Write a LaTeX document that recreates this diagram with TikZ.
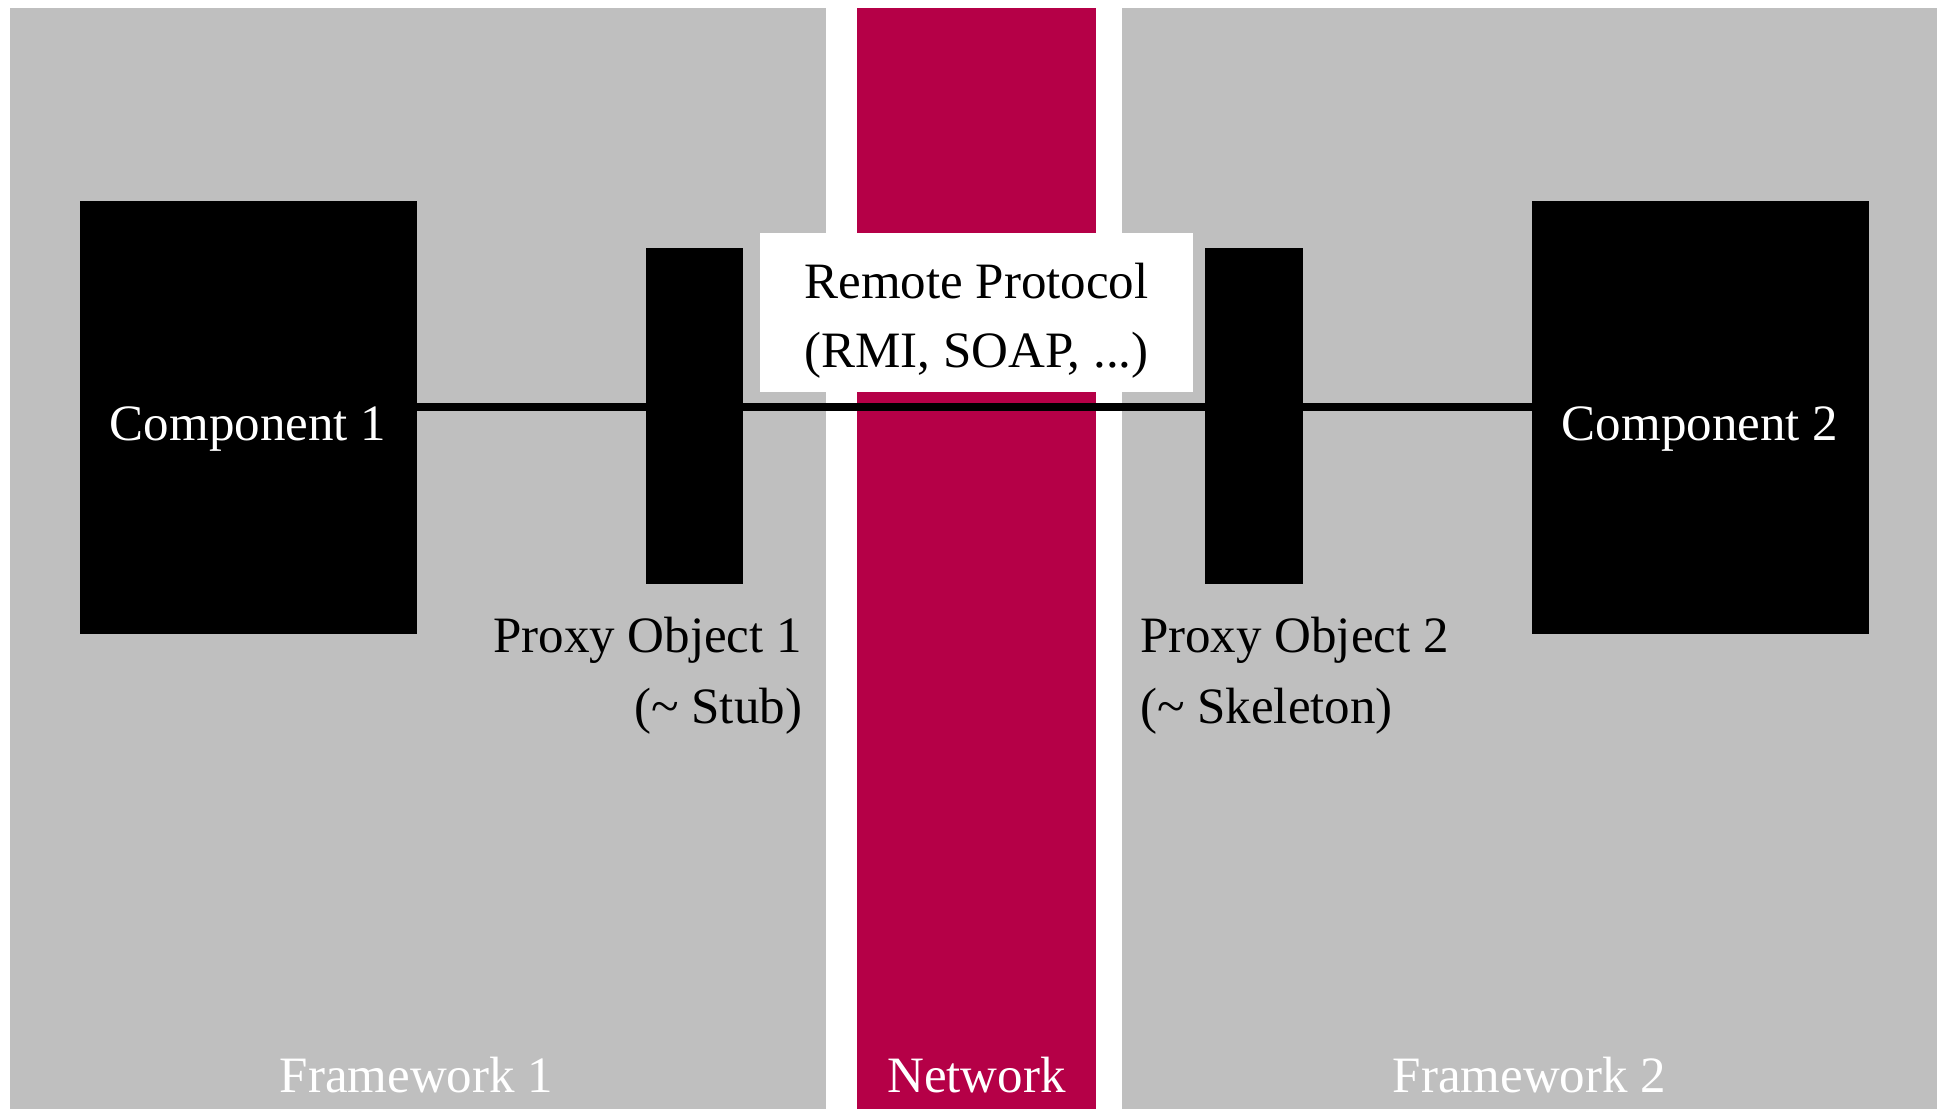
\documentclass[tikz,border=0pt]{standalone}
\usepackage{fontspec}
\setmainfont{Liberation Serif}
\definecolor{panelgray}{RGB}{191,191,191}
\definecolor{netred}{RGB}{181,0,71}
\tikzset{
  panel/.style={fill=panelgray},
  block/.style={rectangle, fill=black, draw=none, inner sep=0pt, outer sep=0pt},
  txt/.style={font=\fontsize{51}{70}\selectfont, inner sep=0pt, outer sep=0pt},
  conn/.style={line width=8pt, black},
}
\begin{document}
\begin{tikzpicture}[x=1pt,y=-1pt]
\useasboundingbox (0,0) rectangle (1945,1109);
\fill[white] (0,0) rectangle (1945,1109);
% panels
\fill[panel] (10,8) rectangle (826,1109);
\fill[netred] (857,8) rectangle (1096,1109);
\fill[panel] (1122,8) rectangle (1937,1109);
% remote protocol box
\node[rectangle, fill=white, minimum width=433pt, minimum height=159pt, inner sep=0pt] (rp) at (976.5,312.5) {};
\node[txt, anchor=base] (rpa) at (976.5,298) {Remote Protocol};
\node[txt, anchor=base] (rpb) at (976.5,367) {(RMI, SOAP, ...)};
% blocks
\node[block, minimum width=337pt, minimum height=433pt] (c1) at (248.5,417.5) {};
\node[block, minimum width=337pt, minimum height=433pt] (c2) at (1700.5,417.5) {};
\node[block, minimum width=97pt, minimum height=336pt] (p1) at (694.5,416) {};
\node[block, minimum width=98pt, minimum height=336pt] (p2) at (1254,416) {};
% connectors
\coordinate (ly) at (0,407);
\draw[conn] (c1.east |- ly) -- (p1.west |- ly);
\draw[conn] (p1.east |- ly) -- (p2.west |- ly);
\draw[conn] (p2.east |- ly) -- (c2.west |- ly);
% labels
\node[txt, text=white, anchor=base] (c1t) at (248,440) {Component 1};
\node[txt, text=white, anchor=base] (c2t) at (1700,440) {Component 2};
\node[txt, anchor=base east] (p1a) at (802,652) {Proxy Object 1};
\node[txt, anchor=base east] (p1b) at (802,723) {(\textasciitilde{} Stub)};
\node[txt, anchor=base west] (p2a) at (1140,652) {Proxy Object 2};
\node[txt, anchor=base west] (p2b) at (1140,723) {(\textasciitilde{} Skeleton)};
\node[txt, text=white, anchor=base] (f1) at (416.5,1092) {Framework 1};
\node[txt, text=white, anchor=base] (nw) at (976.5,1092) {Network};
\node[txt, text=white, anchor=base] (f2) at (1529.5,1092) {Framework 2};
\end{tikzpicture}
\end{document}
